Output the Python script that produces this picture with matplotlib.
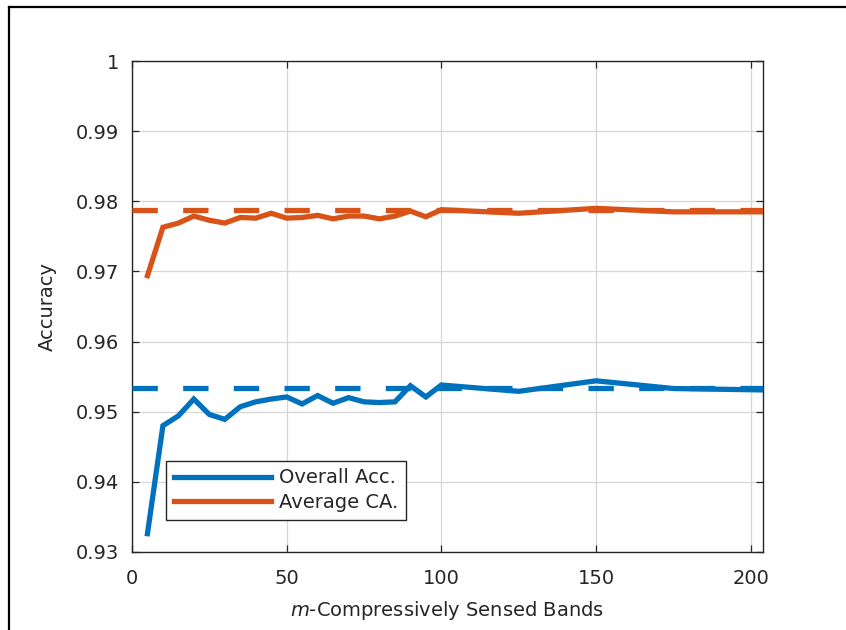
"""Accuracy vs. number of compressively sensed bands."""
import matplotlib
matplotlib.use("Agg")
import matplotlib.pyplot as plt
from matplotlib.lines import Line2D

# number of compressively sensed bands
bands = [5, 10, 15, 20, 25, 30, 35, 40, 45, 50, 55, 60, 65, 70, 75, 80,
         85, 90, 95, 100, 125, 150, 175, 204]
overall_acc = [0.9326, 0.9480, 0.9494, 0.9518, 0.9496, 0.9489, 0.9507,
               0.9514, 0.9518, 0.9521, 0.9511, 0.9523, 0.9512, 0.9520,
               0.9514, 0.9513, 0.9514, 0.9537, 0.9521, 0.9538, 0.9529,
               0.9544, 0.9533, 0.9531]
average_ca = [0.9694, 0.9763, 0.9769, 0.9779, 0.9773, 0.9769, 0.9777,
              0.9776, 0.9783, 0.9776, 0.9777, 0.9780, 0.9775, 0.9779,
              0.9779, 0.9775, 0.9779, 0.9786, 0.9778, 0.9788, 0.9783,
              0.9790, 0.9785, 0.9785]

# full-band reference accuracies
full_x = [0, 204]
full_overall = 0.9534
full_average = 0.9788

yticks = [0.93, 0.94, 0.95, 0.96, 0.97, 0.98, 0.99, 1.0]
ytick_labels = ["0.93", "0.94", "0.95", "0.96", "0.97", "0.98", "0.99", "1"]
xticks = [0, 50, 100, 150, 200]

BLUE = "#0072BD"
ORANGE = "#D95319"
TXT = "#262626"

plt.rcParams["font.family"] = "DejaVu Sans"
plt.rcParams["mathtext.fontset"] = "dejavusans"

fig = plt.figure(figsize=(8.46, 6.3), dpi=100)
ax = fig.add_axes([0.156, 0.124, 0.746, 0.779])

lw = 3.8
ax.plot(bands, overall_acc, color=BLUE, lw=lw, solid_joinstyle="miter",
        zorder=3)
ax.plot(bands, average_ca, color=ORANGE, lw=lw, solid_joinstyle="miter",
        zorder=3)
ax.plot(full_x, [full_overall] * 2, color=BLUE, lw=lw, dashes=(4.8, 4.8),
        dash_capstyle="butt", zorder=3)
ax.plot(full_x, [full_average] * 2, color=ORANGE, lw=lw, dashes=(4.8, 4.8),
        dash_capstyle="butt", zorder=3)

ax.set_xlim(0, 204)
ax.set_ylim(0.93, 1.0)
ax.set_xticks(xticks)
ax.set_yticks(yticks)
ax.set_yticklabels(ytick_labels)
ax.grid(True, color="#d6d6d6", lw=0.9)
ax.set_axisbelow(True)
ax.tick_params(direction="in", top=True, right=True, length=5, width=0.9,
               colors=TXT, labelsize=14, labelcolor=TXT)
ax.tick_params(axis="y", pad=9)
ax.tick_params(axis="x", pad=12)
for sp in ax.spines.values():
    sp.set_color(TXT)
    sp.set_linewidth(1.0)

ax.set_xlabel("$m$-Compressively Sensed Bands", fontsize=14, color=TXT,
              labelpad=8)
ax.set_ylabel("Accuracy", fontsize=14, color=TXT, labelpad=14)

handles = [Line2D([], [], color=BLUE, lw=lw), Line2D([], [], color=ORANGE, lw=lw)]
leg = ax.legend(handles, ["Overall Acc.", "Average CA."], loc="lower left",
                bbox_to_anchor=(0.054, 0.065), borderaxespad=0, fontsize=14,
                handlelength=5.0, handletextpad=0.4, labelspacing=0.3,
                borderpad=0.4, fancybox=False, framealpha=1,
                edgecolor=TXT, labelcolor=TXT)
leg.get_frame().set_linewidth(1.0)

# outer frame on the left and top edges
fig.add_artist(Line2D([9 / 846, 9 / 846], [0, 1 - 7 / 630], color="black",
                      lw=1.6, transform=fig.transFigure))
fig.add_artist(Line2D([9 / 846, 1], [1 - 7 / 630, 1 - 7 / 630], color="black",
                      lw=1.6, transform=fig.transFigure))

fig.savefig("out.png", dpi=100)
plt.close(fig)
